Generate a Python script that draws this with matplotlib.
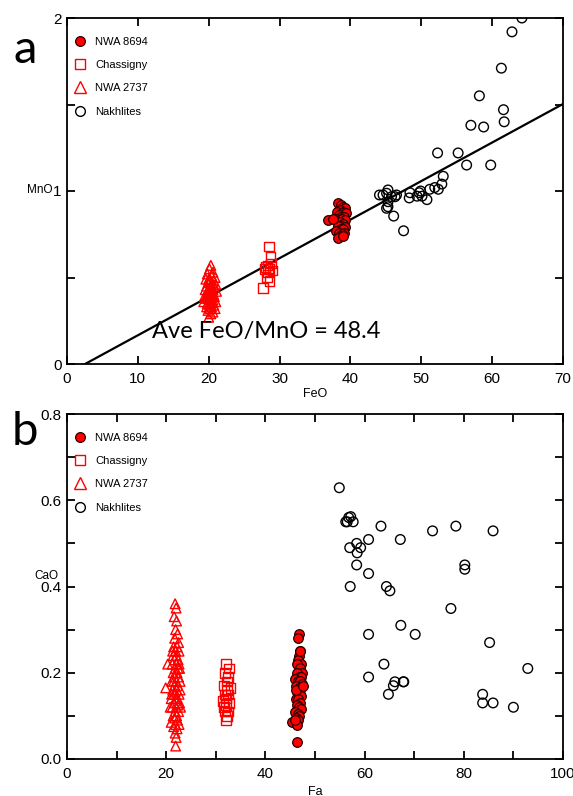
import matplotlib
matplotlib.use("Agg")
import matplotlib.pyplot as plt
from matplotlib.ticker import MultipleLocator, FormatStrFormatter
from matplotlib.lines import Line2D

# ---------------- Panel a data: FeO vs MnO ----------------
a_nwa8694_feo = [38.3, 38.7, 38.9, 39.2, 38.5, 38.1, 39.0, 38.8, 39.4, 38.4, 38.6, 39.1, 37.9, 38.8, 39.3, 38.2,
                 38.5, 39.0, 38.7, 38.3, 39.2, 38.6, 38.9, 38.0, 38.4, 39.1, 38.8, 38.5, 36.9, 37.6, 38.2, 38.9]
a_nwa8694_mno = [0.93, 0.92, 0.91, 0.90, 0.89, 0.88, 0.88, 0.87, 0.87, 0.86, 0.85, 0.85, 0.84, 0.84, 0.83, 0.82,
                 0.82, 0.81, 0.80, 0.80, 0.79, 0.78, 0.78, 0.77, 0.76, 0.76, 0.75, 0.74, 0.83, 0.84, 0.73, 0.74]

a_chass_feo = [28.5, 28.7, 28.3, 28.0, 28.6, 29.0, 28.4, 28.8, 27.9, 28.2, 28.6, 27.7]
a_chass_mno = [0.68, 0.62, 0.57, 0.56, 0.55, 0.54, 0.53, 0.58, 0.55, 0.50, 0.48, 0.44]

a_nwa2737_feo = [20.3, 20.1, 20.6, 19.8, 20.4, 20.9, 20.0, 19.6, 20.7, 20.2, 20.5, 19.9, 21.0, 20.3, 19.7, 20.8,
                 20.1, 20.4, 19.5, 20.6, 20.2, 20.0, 21.1, 19.8, 20.5, 20.3, 19.9, 20.7, 20.1, 19.4, 20.4, 20.8,
                 20.0, 19.6, 20.6, 20.2, 21.0, 19.3, 20.5, 20.3, 19.8, 20.1, 20.7, 20.4, 19.7, 20.2, 20.9, 19.9,
                 20.6, 20.3, 20.0, 19.5]
a_nwa2737_mno = [0.57, 0.55, 0.53, 0.52, 0.51, 0.50, 0.49, 0.49, 0.48, 0.48, 0.47, 0.47, 0.46, 0.46, 0.45, 0.45,
                 0.44, 0.44, 0.43, 0.43, 0.43, 0.42, 0.42, 0.42, 0.41, 0.41, 0.40, 0.40, 0.40, 0.39, 0.39, 0.39,
                 0.38, 0.38, 0.37, 0.37, 0.36, 0.36, 0.36, 0.35, 0.35, 0.34, 0.34, 0.33, 0.33, 0.32, 0.32, 0.31,
                 0.30, 0.29, 0.27, 0.38]

a_nakh_feo = [64.2, 62.8, 61.3, 58.2, 61.6, 61.7, 57.0, 58.8, 52.3, 55.2, 56.4, 59.8, 53.1, 52.9, 51.9, 52.4,
              51.2, 50.8, 49.9, 49.7, 49.4, 50.1, 48.4, 48.3, 47.5, 46.1, 45.3, 45.1, 44.6, 44.1, 45.8, 46.3,
              46.5, 45.3, 45.3, 45.1]
a_nakh_mno = [2.00, 1.92, 1.71, 1.55, 1.47, 1.40, 1.38, 1.37, 1.22, 1.22, 1.15, 1.15, 1.085, 1.04, 1.02, 1.01,
              1.01, 0.95, 1.00, 0.99, 0.97, 0.97, 0.99, 0.96, 0.77, 0.855, 1.006, 0.987, 0.977, 0.977, 0.967,
              0.967, 0.977, 0.938, 0.909, 0.90]

fit_feo = [2.55, 70.0]
fit_mno = [0.0, 1.503]
fit_label = "Ave FeO/MnO = 48.4"

# ---------------- Panel b data: Fa vs CaO ----------------
b_nwa8694_fa = [46.7, 46.5, 47.0, 46.8, 46.6, 47.2, 46.4, 46.9, 47.4, 46.3, 46.7, 47.1, 46.0, 46.5, 46.9, 47.3,
                46.2, 46.7, 47.0, 46.4, 46.8, 47.2, 46.1, 46.6, 46.9, 46.3, 46.7, 47.1, 46.0, 46.5, 46.8, 46.2,
                46.6, 45.4, 46.4, 45.9, 46.4, 46.9, 46.1, 47.5]
b_nwa8694_cao = [0.29, 0.28, 0.25, 0.24, 0.23, 0.22, 0.22, 0.21, 0.20, 0.20, 0.19, 0.19, 0.185, 0.18, 0.18, 0.175,
                 0.17, 0.165, 0.16, 0.155, 0.15, 0.145, 0.14, 0.14, 0.13, 0.125, 0.12, 0.115, 0.11, 0.105, 0.10,
                 0.095, 0.09, 0.085, 0.08, 0.09, 0.04, 0.25, 0.16, 0.17]

b_chass_fa = [32.0, 32.6, 31.8, 32.4, 32.2, 31.7, 33.0, 32.3, 31.9, 32.5, 32.1, 31.4, 32.7, 32.0, 31.6, 32.4,
              32.2, 31.9, 32.0]
b_chass_cao = [0.22, 0.21, 0.20, 0.19, 0.18, 0.17, 0.165, 0.16, 0.15, 0.15, 0.14, 0.135, 0.13, 0.125, 0.12, 0.11,
               0.10, 0.11, 0.09]

b_nwa2737_fa = [21.8, 22.0, 21.6, 22.1, 21.9, 22.3, 21.7, 22.5, 21.5, 22.2, 21.9, 22.6, 21.4, 22.0, 20.3, 21.7,
                22.4, 21.2, 22.1, 21.8, 22.7, 21.4, 22.2, 21.9, 21.6, 22.5, 21.1, 22.0, 22.8, 21.7, 22.3, 19.9,
                21.3, 22.1, 21.8, 22.6, 21.5, 22.2, 21.0, 21.9, 22.7, 21.6, 22.4, 21.2, 22.0, 21.8, 22.5, 21.4,
                22.1, 21.7, 22.3, 21.0, 21.9, 22.6, 21.5, 22.2, 21.8, 22.0, 21.9, 21.5, 22.4, 21.3, 22.6, 21.1,
                22.8, 20.8, 22.9]
b_nwa2737_cao = [0.36, 0.35, 0.33, 0.32, 0.30, 0.29, 0.28, 0.27, 0.26, 0.26, 0.25, 0.25, 0.24, 0.24, 0.22, 0.23,
                 0.23, 0.22, 0.22, 0.21, 0.21, 0.20, 0.20, 0.20, 0.19, 0.19, 0.18, 0.18, 0.18, 0.17, 0.17, 0.165,
                 0.16, 0.16, 0.155, 0.15, 0.15, 0.14, 0.14, 0.14, 0.13, 0.13, 0.125, 0.12, 0.12, 0.11, 0.11, 0.10,
                 0.10, 0.095, 0.09, 0.085, 0.08, 0.08, 0.075, 0.07, 0.06, 0.05, 0.03, 0.18, 0.21, 0.25, 0.22, 0.15,
                 0.16, 0.12, 0.12]

b_nakh_fa = [54.9, 56.2, 56.8, 57.2, 57.7, 56.5, 63.3, 78.4, 73.7, 85.9, 60.8, 67.2, 57.0, 58.4, 59.2, 58.5,
             58.4, 60.8, 80.2, 80.2, 57.1, 64.4, 65.1, 77.4, 67.3, 60.8, 70.2, 85.2, 63.9, 92.9, 60.8, 66.1,
             67.8, 67.9, 65.8, 64.8, 83.8, 83.8, 85.9, 90.0]
b_nakh_cao = [0.629, 0.55, 0.56, 0.562, 0.55, 0.55, 0.54, 0.54, 0.529, 0.529, 0.509, 0.509, 0.49, 0.50, 0.49, 0.478,
              0.45, 0.43, 0.45, 0.44, 0.40, 0.40, 0.39, 0.349, 0.31, 0.289, 0.289, 0.27, 0.22, 0.21, 0.19, 0.179,
              0.179, 0.179, 0.17, 0.15, 0.15, 0.13, 0.13, 0.12]

legend_labels = ["NWA 8694", "Chassigny", "NWA 2737", "Nakhlites"]

# ---------------- Figure ----------------
W, H = 573, 796
fig = plt.figure(figsize=(W / 100, H / 100), dpi=100)
TICKFONT = ["Liberation Sans", "DejaVu Sans"]
RED = "#ff0000"
MS = 48


def px_axes(l, t, r, b):
    return fig.add_axes([l / W, 1 - b / H, (r - l) / W, (b - t) / H])


def style_axes(ax):
    for s in ax.spines.values():
        s.set_linewidth(1.3)
    ax.tick_params(which="both", direction="in", length=6, width=1.3,
                   top=True, right=True, labelsize=11)
    ax.tick_params(axis="x", which="both", pad=6)
    ax.tick_params(axis="y", which="both", pad=4)
    for lab in ax.get_xticklabels() + ax.get_yticklabels():
        lab.set_family(TICKFONT)


def draw_series(ax, d8694, dch, d2737, dnk):
    ax.scatter(*dnk, s=MS, marker="o", facecolors="none", edgecolors="black", linewidths=1.0, zorder=3)
    ax.scatter(*d2737, s=MS, marker="^", facecolors="none", edgecolors=RED, linewidths=1.0, zorder=3)
    ax.scatter(*dch, s=MS, marker="s", facecolors="none", edgecolors=RED, linewidths=1.0, zorder=3)
    ax.scatter(*d8694, s=MS, marker="o", facecolors=RED, edgecolors="#2a0000", linewidths=0.9, zorder=4)


def add_legend(ax):
    handles = [
        Line2D([], [], ls="none", marker="o", ms=7, mfc=RED, mec="#2a0000", mew=0.9),
        Line2D([], [], ls="none", marker="s", ms=7, mfc="none", mec=RED, mew=1.0),
        Line2D([], [], ls="none", marker="^", ms=8, mfc="none", mec=RED, mew=1.0),
        Line2D([], [], ls="none", marker="o", ms=7, mfc="none", mec="black", mew=1.0),
    ]
    leg = ax.legend(handles, legend_labels, loc="upper left", bbox_to_anchor=(-0.006, 0.972),
                    frameon=False, handlelength=1.2, handletextpad=0.8, labelspacing=1.2,
                    borderpad=0.3, prop={"family": TICKFONT, "size": 8})
    return leg


# ----- Panel a -----
axa = px_axes(67, 18, 563, 364)
draw_series(axa, (a_nwa8694_feo, a_nwa8694_mno), (a_chass_feo, a_chass_mno),
            (a_nwa2737_feo, a_nwa2737_mno), (a_nakh_feo, a_nakh_mno))
axa.plot(fit_feo, fit_mno, color="black", lw=1.6, zorder=2)
axa.set_xlim(0, 70)
axa.set_ylim(0, 2)
axa.xaxis.set_major_locator(MultipleLocator(10))
axa.yaxis.set_major_locator(MultipleLocator(1))
axa.yaxis.set_minor_locator(MultipleLocator(0.5))
style_axes(axa)
add_legend(axa)
axa.text(12.0, 0.19, fit_label, fontsize=17, family=["Lato", "DejaVu Sans"], va="center", ha="left", zorder=5)
fig.text(40 / W, 1 - 190 / H, "MnO", family=TICKFONT, fontsize=8.5, ha="center", va="center")
fig.text(315 / W, 1 - 394 / H, "FeO", family=TICKFONT, fontsize=9, ha="center", va="center")
fig.text(25 / W, 1 - 50 / H, "a", family=["Lato", "DejaVu Sans"], fontsize=34, ha="center", va="center")

# ----- Panel b -----
axb = px_axes(67, 414, 563, 759)
draw_series(axb, (b_nwa8694_fa, b_nwa8694_cao), (b_chass_fa, b_chass_cao),
            (b_nwa2737_fa, b_nwa2737_cao), (b_nakh_fa, b_nakh_cao))
axb.set_xlim(0, 100)
axb.set_ylim(0, 0.8)
axb.xaxis.set_major_locator(MultipleLocator(20))
axb.xaxis.set_minor_locator(MultipleLocator(10))
axb.yaxis.set_major_locator(MultipleLocator(0.2))
axb.yaxis.set_minor_locator(MultipleLocator(0.1))
axb.yaxis.set_major_formatter(FormatStrFormatter("%.1f"))
style_axes(axb)
add_legend(axb)
fig.text(46 / W, 1 - 576 / H, "CaO", family=TICKFONT, fontsize=8.5, ha="center", va="center")
fig.text(315 / W, 1 - 792 / H, "Fa", family=TICKFONT, fontsize=9, ha="center", va="center")
fig.text(25 / W, 1 - 432 / H, "b", family=["Lato", "DejaVu Sans"], fontsize=34, ha="center", va="center")

fig.savefig("out.png", dpi=100)
